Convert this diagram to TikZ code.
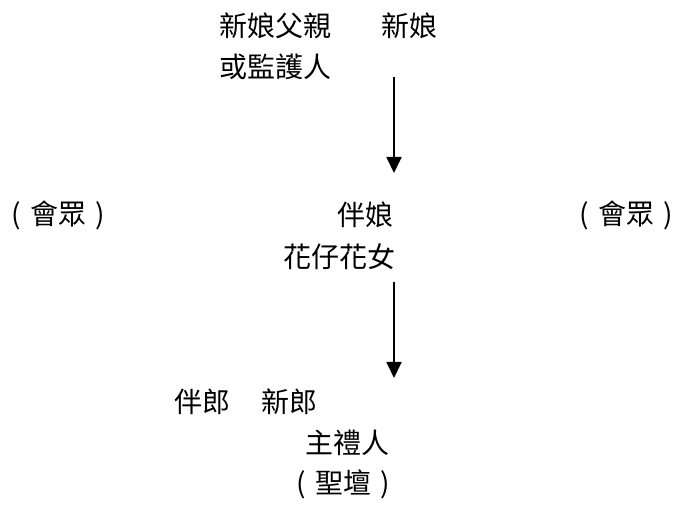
\documentclass[tikz,border=0pt]{standalone}
\usepackage{fontspec}
\newfontfamily\cjk{Noto Sans CJK TC}
\usetikzlibrary{arrows.meta}
\newcommand{\inparens}[1]{\makebox[1em]{(}#1\hspace{0.5em}\makebox[0pt]{)}}
\tikzset{
	word/.style={anchor=west, inner sep=0pt, font=\cjk\fontsize{14pt}{16pt}\selectfont},
	walk/.style={-{Triangle[width=7.5pt, length=8pt]}, line width=0.9pt}
}
\begin{document}
\begin{tikzpicture}[x=0.5pt, y=-0.5pt]
		\useasboundingbox (0, 0) rectangle (676, 513);

		\node [word] (father)	at (219, 26) {新娘父親};
		\node [word] (bride)	at (381, 26) {新娘};
		\node [word] (guardian)	at (219, 67) {或監護人};

		\node [word] (guestsL)	at (2, 215) {\inparens{會眾}};
		\node [word] (maid)	at (337, 215) {伴娘};
		\node [word] (guestsR)	at (570, 215) {\inparens{會眾}};
		\node [word] (flower)	at (283, 257) {花仔花女};

		\node [word] (bestman)	at (174, 402) {伴郎};
		\node [word] (groom)	at (261, 402) {新郎};
		\node [word] (officiant)	at (305, 443) {主禮人};
		\node [word] (altar)	at (287, 484) {\inparens{聖壇}};

		\coordinate (walkA)	at (394, 77);
		\coordinate (walkB)	at (394, 173);
		\coordinate (walkC)	at (394, 282);
		\coordinate (walkD)	at (394, 378);

		\draw [walk]	(walkA) to (walkB);
		\draw [walk]	(walkC) to (walkD);
	\end{tikzpicture}
\end{document}
